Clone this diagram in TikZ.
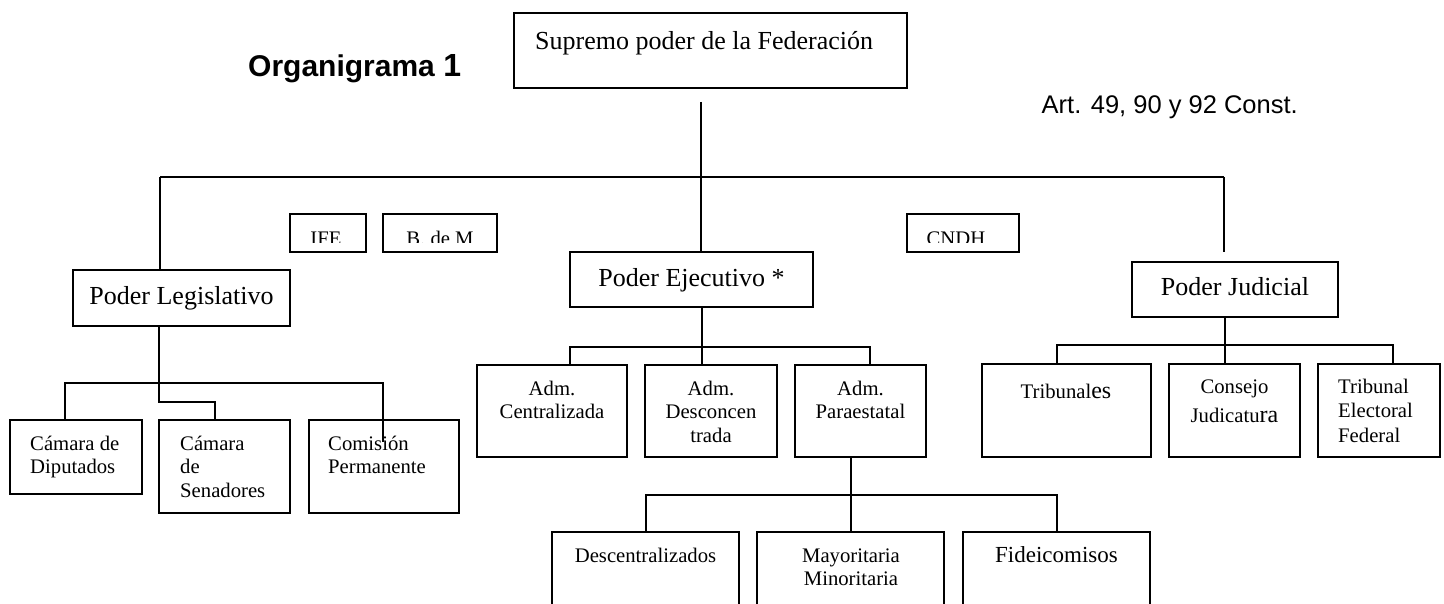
\documentclass[tikz,border=0pt]{standalone}
\usepackage{fontspec}
\setmainfont{Liberation Serif}
\newfontfamily\arialfnt{Liberation Sans}
\newcommand\myBig{\fontsize{26}{30}\selectfont}
\newcommand\mySmall{\fontsize{20.7}{23.5}\selectfont}
\newcommand\myst{\rule{0pt}{20pt}}
\newcommand\mkbox[5]{\node[bx, minimum width={#4-#2}, minimum height={#5-#3}] (#1) at ({(#2+#4)/2},{(#3+#5)/2}) {};}
\begin{document}
\begin{tikzpicture}[x=1pt,y=-1pt,
  bx/.style={draw, rectangle, line width=1.4pt, inner sep=0pt, outer sep=0pt},
  ln/.style={line width=1.4pt},
  lt/.style={inner sep=0pt, anchor=north west, align=left, font=\mySmall},
  lc/.style={inner sep=0pt, anchor=north, align=center, font=\mySmall},
  lb/.style={inner sep=0pt, anchor=base, font=\myBig}]
\useasboundingbox (0,0) rectangle (1444,604);
\clip (0,0) rectangle (1444,604);
\fill[white] (0,0) rectangle (1444,604);

% titles
\node[inner sep=0pt, anchor=base west, font=\arialfnt\bfseries\fontsize{30}{34}\selectfont] (title) at (248,77) {Organigrama {\fontsize{32}{34}\selectfont 1}};
\node[inner sep=0pt, anchor=base east, font=\arialfnt\fontsize{25.5}{30}\selectfont] (art) at (1298,114) {Art. 49, 90 y 92 Const.};

% boxes
\mkbox{sup}{514}{13}{907}{88}
\mkbox{ife}{290}{214}{366}{252}
\mkbox{bdm}{383}{214}{497}{252}
\mkbox{cndh}{907}{214}{1019}{252}
\mkbox{leg}{73}{270}{290}{326}
\mkbox{ejec}{570}{252}{813}{307}
\mkbox{jud}{1132}{262}{1338}{317}
\mkbox{dip}{10}{420}{142}{494}
\mkbox{sen}{159}{420}{290}{513}
\mkbox{com}{309}{420}{459}{513}
\mkbox{cent}{477}{365}{627}{457}
\mkbox{desc}{645}{365}{777}{457}
\mkbox{para}{795}{365}{926}{457}
\mkbox{trib}{982}{364}{1151}{457}
\mkbox{cons}{1169}{364}{1300}{457}
\mkbox{tef}{1318}{364}{1440}{457}
\mkbox{dzd}{552}{532}{739}{620}
\mkbox{may}{757}{532}{944}{620}
\mkbox{fid}{963}{532}{1150}{620}

% texts
\node[inner sep=0pt, anchor=base west, font=\myBig] (sup-t) at (535,50) {Supremo poder de la Federación};
\node[lb] (leg-t) at (181.5,305) {Poder Legislativo};
\node[lb] (ejec-t) at (691.5,287) {Poder Ejecutivo *};
\node[lb] (jud-t) at (1235,296) {Poder Judicial};

\begin{scope}
\clip (ife.north west) rectangle (497,243);
\node[inner sep=0pt, anchor=base, font=\mySmall] (ife-t) at (326,246) {IFE};
\node[inner sep=0pt, anchor=base, font=\mySmall] (bdm-t) at (440,246) {B. de M};
\end{scope}
\begin{scope}
\clip (cndh.north west) rectangle (1019,243);
\node[inner sep=0pt, anchor=base, font=\mySmall] (cndh-t) at (956,246) {CNDH};
\end{scope}

\node[lt] (dip-t) at (30,430) {\myst Cámara de\\Diputados};
\node[lt] (sen-t) at (180,430) {\myst Cámara\\de\\Senadores};
\node[lt] (com-t) at (328,430) {\myst Comisión\\Permanente};

\node[lc] (cent-t) at (552,375) {\myst Adm.\\Centralizada};
\node[lc] (desc-t) at (711,375) {\myst Adm.\\Desconcen\\trada};
\node[lc] (para-t) at (860.5,375) {\myst Adm.\\Paraestatal};

\node[lc] (trib-t) at (1066,378) {\myst Tribunal{\fontsize{24}{26}\selectfont es}};
\node[lc, font=\fontsize{20.7}{29}\selectfont] (cons-t) at (1234.5,373) {\myst Consejo\\Judicatu{\fontsize{24}{29}\selectfont ra}};
\node[lt, font=\fontsize{20.7}{24.5}\selectfont] (tef-t) at (1338,373) {\myst Tribunal\\Electoral\\Federal};

\node[lc] (dzd-t) at (645.5,542) {\myst Descentralizados};
\node[lc] (may-t) at (851,542) {\myst Mayoritaria\\Minoritaria};
\node[lc, font=\fontsize{23}{26}\selectfont] (fid-t) at (1056.5,542) {\myst Fideicomisos};

% connectors: top level
\coordinate (t0) at (701,102);
\coordinate (hL) at (160,177);
\coordinate (hR) at (1224,177);
\coordinate (jR) at (1224,252);
\draw[ln] (hL) -- (hR);
\draw[ln] (t0) -- (t0 |- ejec.north);
\draw[ln] (hL) -- (hL |- leg.north);
\draw[ln] (hR) -- (jR);

% legislative
\coordinate (l1) at (159,402);
\coordinate (l2) at (215,402);
\coordinate (lh1) at (65,383);
\coordinate (lh2) at (383,383);
\coordinate (ce) at (383,442);
\draw[ln] (leg.south -| l1) -- (l1) -- (l2) -- (l2 |- sen.north);
\draw[ln] (dip.north -| lh1) -- (lh1) -- (lh2) -- (ce);

% executive
\coordinate (e0) at (702,347);
\coordinate (e1) at (570,347);
\coordinate (e2) at (870,347);
\draw[ln] (ejec.south -| e0) -- (e0);
\draw[ln] (cent.north -| e1) -- (e1) -- (e2) -- (para.north -| e2);
\draw[ln] (e0) -- (desc.north -| e0);

% paraestatal
\coordinate (p0) at (851,495);
\coordinate (p1) at (646,495);
\coordinate (p2) at (1057,495);
\draw[ln] (para.south -| p0) -- (may.north -| p0);
\draw[ln] (dzd.north -| p1) -- (p1) -- (p2) -- (fid.north -| p2);

% judicial
\coordinate (j0) at (1225,345);
\coordinate (j1) at (1057,345);
\coordinate (j2) at (1393,345);
\draw[ln] (jud.south -| j0) -- (j0);
\draw[ln] (trib.north -| j1) -- (j1) -- (j2) -- (tef.north -| j2);
\draw[ln] (j0) -- (cons.north -| j0);
\end{tikzpicture}
\end{document}
